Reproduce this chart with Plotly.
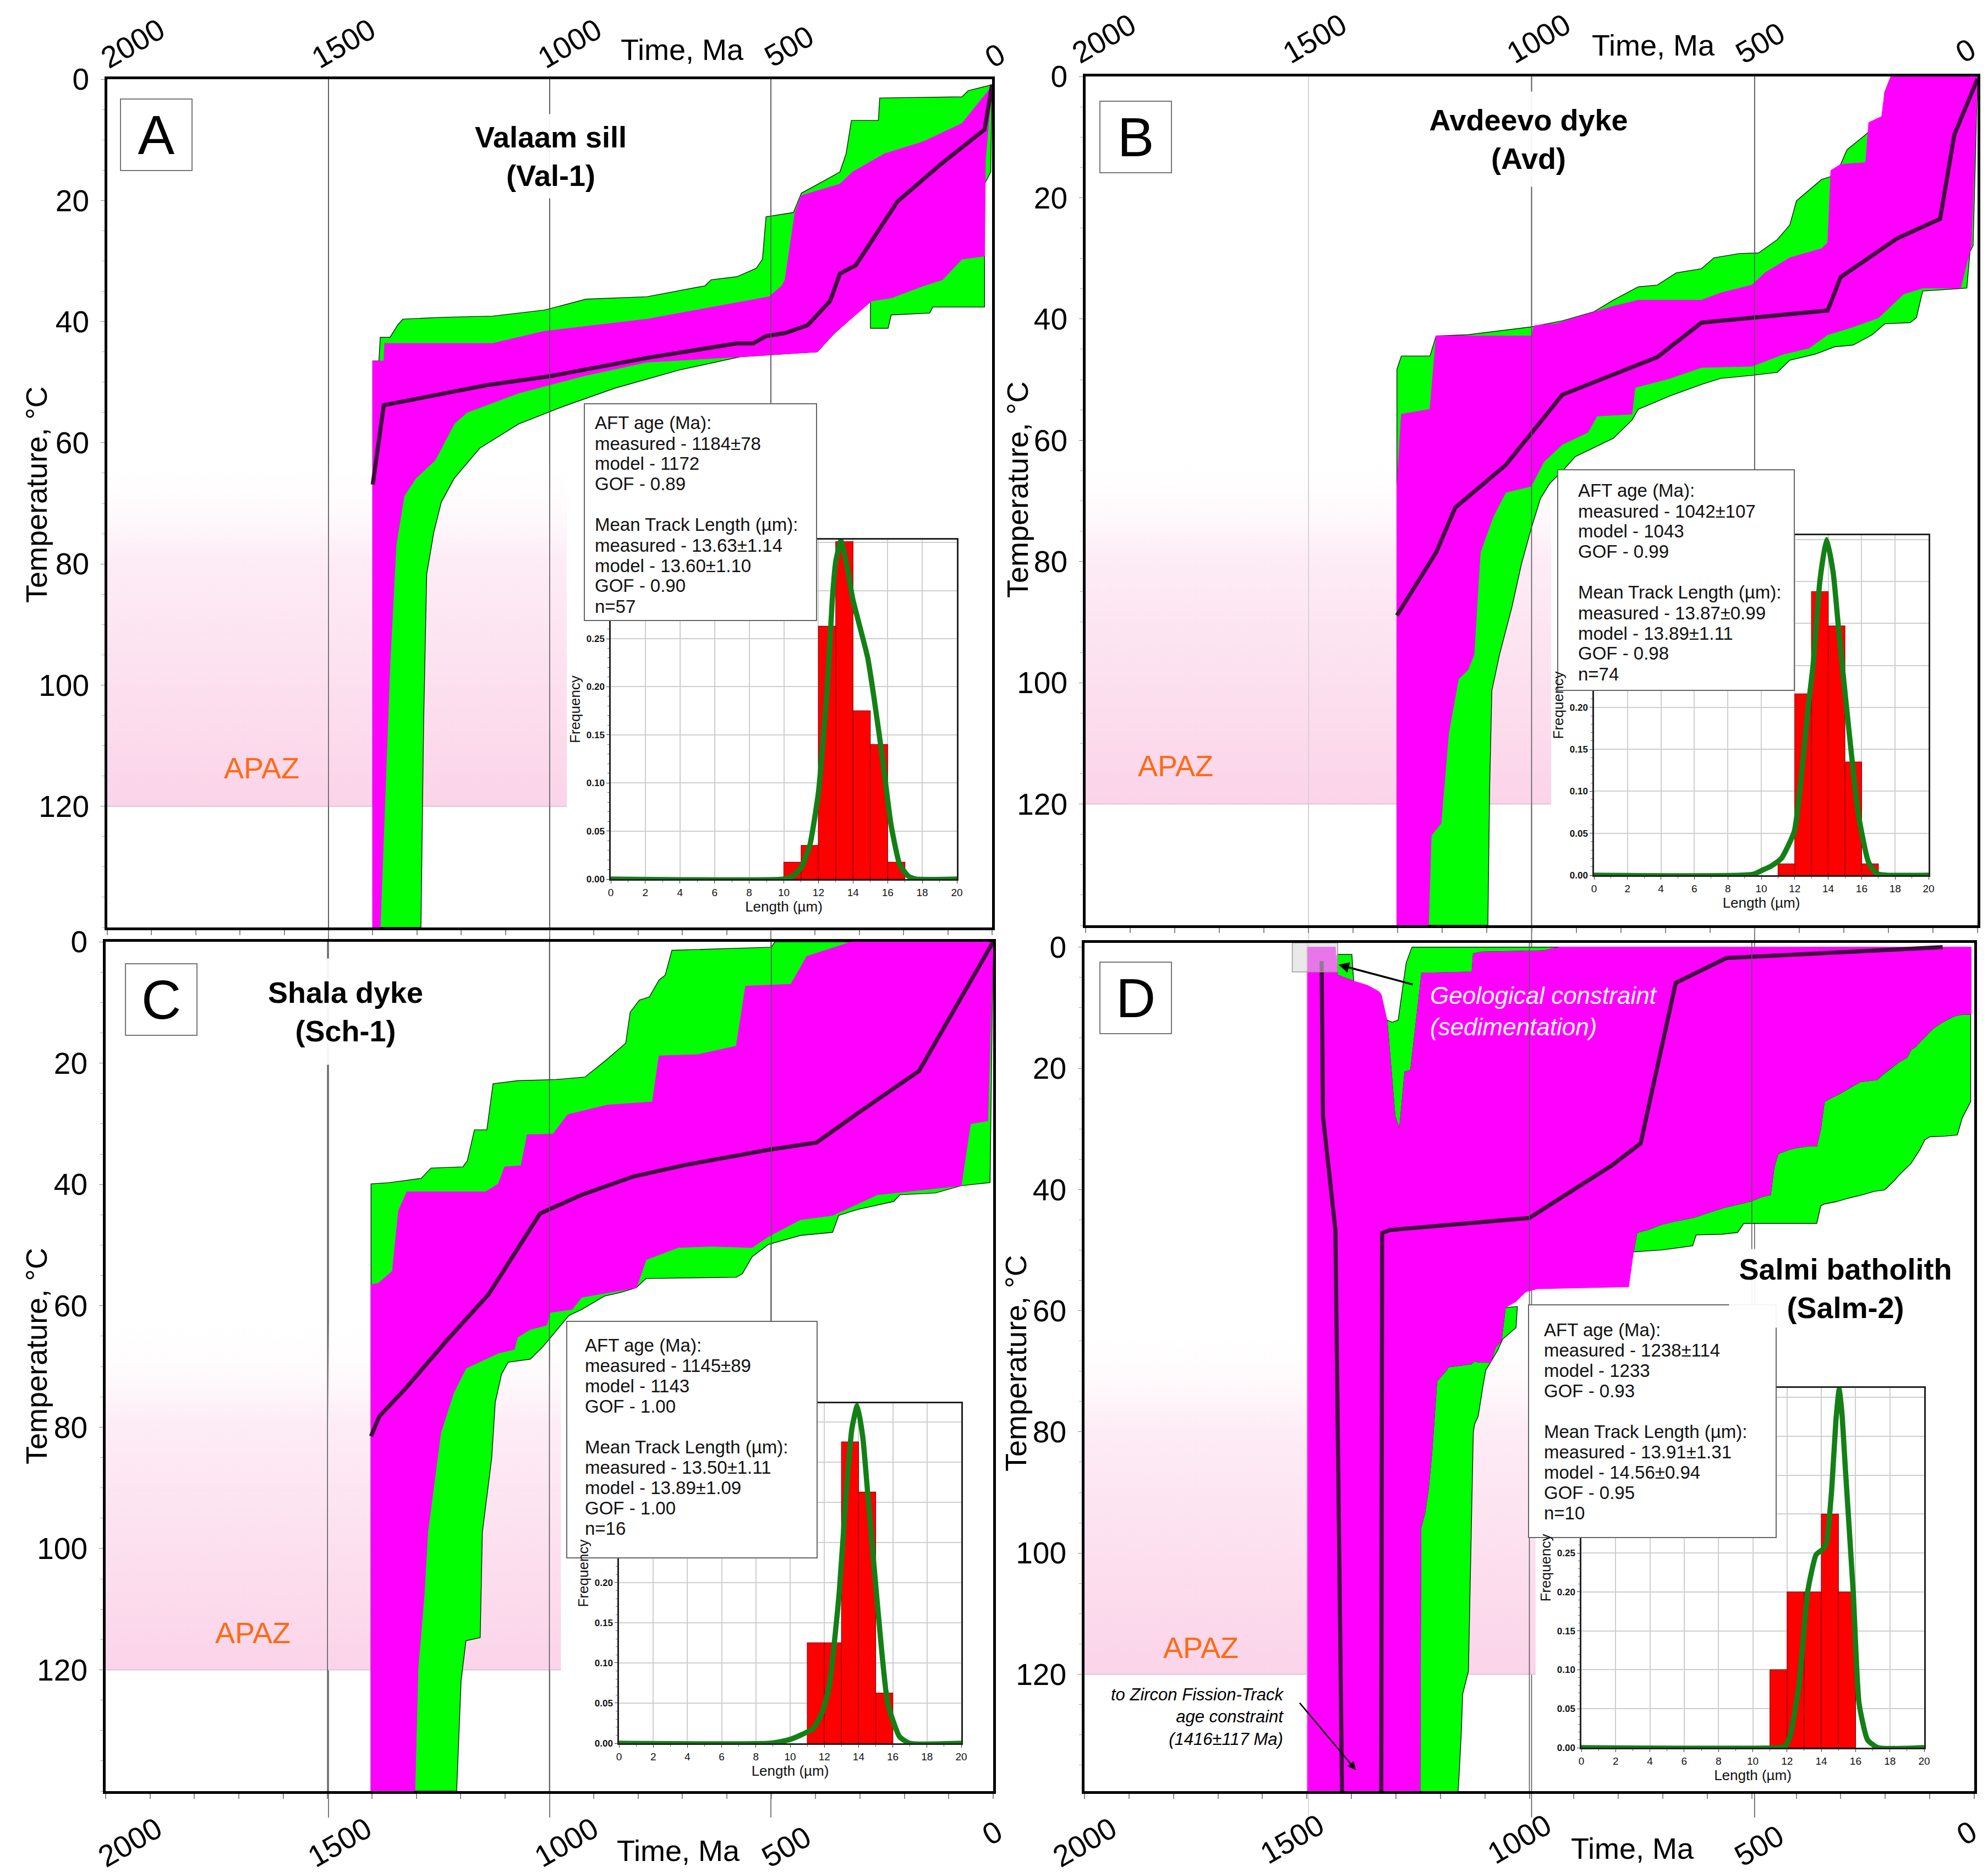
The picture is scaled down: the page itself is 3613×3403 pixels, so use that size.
import plotly.graph_objects as go

W, H = 3613, 3403
FONT = "Liberation Sans"

time_ticks = [2000, 1500, 1000, 500, 0]
time_labels = ["2000", "1500", "1000", "500", "0"]
temp_ticks = [0, 20, 40, 60, 80, 100, 120]
grid_times = [1500, 1000, 500]
freq_ticks = [0, 0.05, 0.10, 0.15, 0.20, 0.25, 0.30, 0.35, 0.40, 0.45]
apaz_top, apaz_bottom = 62, 120

# ---------- A: Valaam sill (Val-1)   points are (time Ma, temperature C) ----------
a_green = [(1400, 140), (1400, 46.5), (1386, 46.5), (1383, 42.6), (1361, 42.6), (1344, 40.6), (1332, 39.6),
           (1245, 39.3), (1129, 39.1), (1012, 38.1), (918, 36.3), (780, 35.9), (649, 34.1), (635, 33.1),
           (577, 32.6), (533, 31.2), (519, 29.7), (511, 22.7), (449, 22), (431, 18.8), (381, 16.8),
           (344, 15.3), (330, 12.3), (318, 6.8), (257, 6.8), (254, 3.1), (68, 2.9), (54, 1.9), (0, 0.9),
           (3, 15.3), (17, 17.3), (17, 37.6), (134, 37.6), (141, 38.6), (228, 38.9), (235, 41.1),
           (275, 41.1), (275, 36.6), (359, 42.1), (395, 45), (569, 45.8), (707, 48), (853, 51), (969, 54),
           (1070, 56.9), (1158, 60.9), (1216, 65.9), (1245, 69.8), (1262, 74.8), (1278, 81.7),
           (1285, 106.5), (1291, 140)]
a_magenta = [(1400, 140), (1400, 46.5), (1375, 46.5), (1373, 43.6), (1129, 43.6), (1012, 41.6), (780, 39.6),
             (504, 35.9), (475, 34.1), (468, 33.1), (446, 22.2), (431, 19.2), (344, 17.3), (315, 15.3),
             (243, 12.3), (155, 10.3), (68, 7.3), (3, 1.4), (0, 0.9), (15, 13.3), (17, 29.2), (68, 29.7),
             (112, 33.1), (155, 34.1), (228, 36.1), (272, 36.6), (359, 42.1), (395, 45), (569, 45.8),
             (780, 46.7), (925, 49), (1070, 51.8), (1187, 55), (1216, 56.9), (1259, 62.9), (1303, 65.9),
             (1329, 68.8), (1347, 76.8), (1361, 96.6), (1375, 125.4), (1383, 140)]
a_path = [(1400, 66.9), (1375, 53.8), (1143, 50.5), (998, 49), (780, 46), (577, 43.6), (540, 43.6),
          (511, 42.4), (468, 41.9), (417, 40.6), (366, 36.6), (344, 32.1), (308, 30.7), (214, 20.2),
          (112, 13.8), (17, 8.3), (0, 0.9)]
a_len_bin = [10.5, 11.5, 12.5, 13.5, 14.5, 15.5, 16.5]
a_len_freq = [0.0175, 0.035, 0.263, 0.351, 0.175, 0.140, 0.0175]
a_fit_len = [0, 10, 10.5, 11, 11.5, 12, 12.5, 12.8, 13.0, 13.3, 13.6, 14.0, 14.3, 14.85, 15.2, 15.7, 16.2,
             16.7, 17.2, 17.6, 20]
a_fit_freq = [0, 0, 0.003, 0.012, 0.035, 0.09, 0.196, 0.29, 0.33, 0.352, 0.33, 0.29, 0.269, 0.23, 0.19,
              0.126, 0.056, 0.015, 0.003, 0, 0]
a_stats = ["AFT age (Ma):", "measured - 1184±78", "model - 1172", "GOF - 0.89", "",
           "Mean Track Length (µm):", "measured - 13.63±1.14", "model - 13.60±1.10", "GOF - 0.90", "n=57"]

# ---------- B: Avdeevo dyke (Avd) ----------
b_green = [(1302, 140), (1302, 48.3), (1292, 46.1), (1228, 46.1), (1214, 42.8), (1143, 42.6), (1001, 41.3),
           (931, 40.3), (860, 38.8), (817, 36.9), (761, 34.7), (718, 34.4), (676, 32.4), (619, 31.7),
           (591, 29.9), (534, 29.2), (491, 29.1), (449, 26.9), (421, 24.5), (406, 20.5), (350, 17),
           (329, 16.5), (307, 14.5), (293, 12.1), (251, 9.6), (229, 8.1), (215, 7.6), (208, 2.6), (194, 0),
           (0, 0), (10, 27.9), (17, 28.9), (24, 34.9), (123, 35.4), (137, 39.8), (151, 40.6), (208, 40.8),
           (236, 42.6), (279, 44.3), (321, 44.6), (364, 45.8), (392, 46.3), (421, 46.8), (449, 48.8),
           (506, 49.3), (576, 49.8), (619, 50.8), (690, 52.7), (761, 54.9), (775, 56.7), (817, 59.7),
           (902, 62.7), (931, 65.1), (959, 67.1), (980, 69.6), (1001, 74.6), (1023, 80.5), (1044, 87.5),
           (1072, 95.4), (1089, 101.3), (1094, 117.2), (1098, 140)]
b_magenta = [(1302, 140), (1302, 67.6), (1292, 55.7), (1228, 54.9), (1214, 42.8), (1001, 42.8), (994, 41.1),
             (945, 40.8), (817, 37.9), (761, 36.9), (619, 36.9), (576, 35.7), (506, 34.4), (477, 32.4),
             (421, 29.9), (350, 28.4), (336, 27.4), (329, 15.5), (307, 14.5), (251, 14.2), (244, 7.6),
             (215, 6.6), (208, 2.6), (194, 0), (0, 0), (14, 27.9), (38, 34.9), (123, 34.9), (166, 35.9),
             (222, 39.8), (279, 41.3), (336, 42.6), (378, 44.8), (435, 45.8), (506, 47.8), (619, 48),
             (690, 49.8), (768, 51.3), (775, 55.7), (853, 56), (874, 58.7), (931, 60.7), (973, 63.6),
             (1001, 67.6), (1058, 68.6), (1086, 72.6), (1115, 78.5), (1129, 95.4), (1143, 97.9),
             (1164, 99.4), (1186, 108.3), (1203, 123.2), (1225, 125.2), (1231, 140)]
b_path = [(1302, 88.9), (1214, 78.5), (1171, 71.1), (1058, 64.1), (931, 52.5), (718, 46.3), (619, 40.6),
          (336, 38.6), (307, 33.1), (180, 26.7), (84, 23.5), (52, 9.6), (0, 0.4)]
b_len_bin = [11.5, 12.5, 13.5, 14.5, 15.5, 16.5]
b_len_freq = [0.0135, 0.216, 0.338, 0.297, 0.135, 0.0135]
b_fit_len = [0, 9.5, 10.06, 10.6, 11.2, 11.97, 12.35, 12.8, 13.1, 13.5, 13.9, 14.3, 14.65, 15.2, 15.8, 16.4,
             16.9, 17.5, 20]
b_fit_freq = [0, 0.001, 0.006, 0.011, 0.02, 0.052, 0.109, 0.2, 0.251, 0.35, 0.40, 0.36, 0.287, 0.18, 0.073,
              0.016, 0.002, 0, 0]
b_stats = ["AFT age (Ma):", "measured - 1042±107", "model - 1043", "GOF - 0.99", "",
           "Mean Track Length (µm):", "measured - 13.87±0.99", "model - 13.89±1.11", "GOF - 0.98", "n=74"]

# ---------- C: Shala dyke (Sch-1) ----------
c_green = [(1402, 140), (1402, 39.9), (1361, 39.7), (1289, 39), (1267, 37.3), (1195, 37.1), (1185, 36.1),
           (1169, 31), (1141, 31), (1127, 23.4), (1072, 22.9), (985, 22.7), (920, 22.3), (869, 19.3),
           (828, 16.7), (818, 11.6), (797, 9.6), (775, 9.1), (753, 6.3), (739, 5.5), (724, 1.4), (500, 0.9),
           (492, 0), (0, 0), (7, 39.7), (72, 40.2), (130, 41.4), (210, 41.7), (224, 42.8), (304, 44.1),
           (348, 45.1), (362, 47.9), (434, 48.4), (507, 49.9), (543, 51.9), (565, 54.7), (579, 55.3),
           (782, 55.5), (804, 57), (840, 57.8), (876, 58.4), (927, 60.6), (956, 61.6), (985, 64.2),
           (1014, 66.7), (1043, 68.8), (1093, 69.3), (1108, 71.3), (1122, 75.9), (1130, 85.1), (1151, 97.3),
           (1156, 114.7), (1188, 115.2), (1199, 121.8), (1209, 140)]
c_magenta = [(1402, 140), (1402, 56.5), (1386, 56.3), (1354, 54.3), (1340, 44.3), (1321, 41.2), (1144, 41.2),
             (1115, 39.9), (1101, 37.1), (1064, 36.9), (1050, 31.8), (992, 31.7), (959, 28.5), (869, 26.9),
             (768, 26.4), (753, 18.8), (666, 18.6), (579, 17.2), (558, 7.3), (456, 7), (420, 2.4), (319, 0),
             (0, 0), (12, 29.5), (51, 30), (72, 40.2), (261, 41.7), (362, 45.1), (434, 45.8), (507, 48.6),
             (543, 50.4), (637, 50.2), (710, 50.4), (782, 52.4), (804, 57), (927, 58.6), (949, 60.6),
             (999, 61.1), (1006, 63.2), (1043, 63.9), (1072, 65.2), (1079, 67.2), (1115, 67.8), (1188, 70.3),
             (1216, 74.4), (1245, 81), (1274, 97.3), (1282, 107.6), (1296, 119.8), (1303, 140)]
c_path = [(1402, 81.5), (1383, 78.2), (1325, 73.7), (1231, 65.7), (1137, 58.1), (1021, 44.8), (927, 41.7),
          (811, 38.7), (695, 36.8), (507, 34.3), (398, 33.1), (304, 28.2), (167, 21.3), (0, 0)]
c_len_bin = [11.5, 12.5, 13.5, 14.5, 15.5]
c_len_freq = [0.125, 0.125, 0.375, 0.3125, 0.0625]
c_fit_len = [0, 8.8, 9.87, 10.6, 11.37, 11.9, 12.3, 12.87, 13.25, 13.6, 13.92, 14.25, 14.56, 15.1, 15.7, 16.4,
             17, 20]
c_fit_freq = [0, 0, 0.004, 0.01, 0.019, 0.04, 0.073, 0.188, 0.304, 0.39, 0.42, 0.38, 0.304, 0.173, 0.05,
              0.008, 0, 0]
c_stats = ["AFT age (Ma):", "measured - 1145±89", "model - 1143", "GOF - 1.00", "",
           "Mean Track Length (µm):", "measured - 13.50±1.11", "model - 13.89±1.09", "GOF - 1.00", "n=16"]

# ---------- D: Salmi batholith (Salm-2) ----------
d_green_top = [(1264, 0), (1277, 2.6), (1295, 12.05), (1308, 12.4), (1320, 12.05), (1302, 27.9), (1292, 30),
               (1280, 20.6), (1267, 20.3), (1242, 4.3), (1129, 4.1), (1126, 1.1), (1107, 0.8), (969, 0.6),
               (932, 0)]
d_green_nub = [(1432, 1.2), (1399, 1.2), (1395, 5.6), (1424, 4.8), (1432, 4.6)]
d_green_right = [(10, 11.1), (27, 11.1), (46, 11.4), (72, 12.4), (94, 13.5), (108, 14.6), (122, 15.6),
                 (131, 16.4), (142, 16.9), (151, 18.2), (170, 19), (190, 20.1), (207, 21.1), (219, 21.9),
                 (255, 22.2), (275, 23), (303, 24.2), (317, 24.7), (337, 25.5), (345, 29.9), (354, 32.8),
                 (371, 32.8), (399, 33.1), (416, 33.4), (441, 34.1), (450, 36.4), (458, 40.9), (478, 41.2),
                 (501, 41.9), (529, 42.4), (563, 43), (597, 43.8), (630, 44.6), (676, 45.3), (704, 45.8),
                 (732, 46.6), (758, 47.1), (766, 50.3), (704, 50), (633, 49.3), (625, 47.5), (568, 47.4),
                 (532, 47.1), (518, 45.6), (354, 45.6), (345, 42.7), (337, 42.4), (309, 42), (281, 41.4),
                 (252, 40.9), (224, 40.3), (202, 40.1), (179, 38.5), (170, 37.7), (142, 35.7), (122, 33.4),
                 (111, 31.8), (100, 31.3), (66, 31.2), (38, 31), (27, 28.2), (8, 25.5), (8, 11.1)]
d_green_left = [(1027, 59.3), (1054, 59.5), (1063, 65), (1076, 66), (1087, 68.5), (1115, 68.5), (1123, 68.3),
                (1131, 68.8), (1183, 69.3), (1186, 69.8), (1205, 71.4), (1208, 71.7), (1219, 83.2),
                (1227, 89.5), (1235, 93.4), (1244, 95.9), (1246, 140), (1161, 140), (1159, 138),
                (1153, 129.7), (1150, 123.3), (1137, 119.5), (1131, 97.8), (1126, 80), (1123, 78.7),
                (1115, 77.4), (1104, 72.3), (1098, 69.8), (1087, 68.5), (1071, 66.5), (1060, 64.7),
                (1030, 62.8)]
d_magenta = [(1500, 140), (1500, 0), (1436, 0), (1432, 4.6), (1424, 4.8), (1395, 5.6), (1364, 6.3), (1339, 7.3),
             (1333, 7.8), (1320, 12.05), (1302, 27.9), (1292, 30), (1280, 20.6), (1267, 20.3), (1242, 4.3),
             (1129, 4.1), (1126, 1.1), (1107, 0.8), (969, 0.6), (932, 0), (7, 0), (7, 11.1), (27, 11.1),
             (46, 11.4), (72, 12.4), (94, 13.5), (108, 14.6), (122, 15.6), (131, 16.4), (142, 16.9),
             (151, 18.2), (170, 19), (190, 20.1), (207, 21.1), (219, 21.9), (255, 22.2), (275, 23),
             (303, 24.2), (317, 24.7), (337, 25.5), (345, 29.9), (354, 32.8), (371, 32.8), (399, 33.1),
             (416, 33.4), (441, 34.1), (450, 36.4), (458, 40.9), (478, 41.2), (501, 41.9), (529, 42.4),
             (563, 43), (597, 43.8), (630, 44.6), (676, 45.3), (704, 45.8), (732, 46.6), (758, 47.1),
             (766, 50.3), (777, 56.1), (794, 56.1), (983, 56.4), (1008, 56.9), (1030, 58.5), (1054, 59.5),
             (1063, 65), (1076, 66), (1087, 68.5), (1115, 68.5), (1123, 68.3), (1131, 68.8), (1183, 69.3),
             (1186, 69.8), (1205, 71.4), (1208, 71.7), (1219, 83.2), (1227, 89.5), (1235, 93.4),
             (1244, 95.9), (1246, 140)]
d_path_zircon = [(1467, 2.3), (1464, 27.9), (1436, 46.7), (1421, 140)]
d_path_main = [(1333, 140), (1331, 47.2), (1314, 46.7), (1000, 44.7), (814, 36), (750, 32.4), (671, 5.9),
               (557, 1.8), (71, 0)]
d_len_bin = [11.5, 12.5, 13.5, 14.5, 15.5]
d_len_freq = [0.1, 0.2, 0.2, 0.3, 0.2]
d_fit_len = [0, 11.5, 11.9, 12.2, 12.7, 13.2, 13.7, 14.1, 14.3, 14.6, 14.85, 15.04, 15.2, 15.4, 15.86, 16.2,
             16.7, 17.3, 20]
d_fit_freq = [0, 0, 0.002, 0.017, 0.081, 0.2, 0.248, 0.255, 0.263, 0.33, 0.42, 0.46, 0.43, 0.359, 0.2, 0.057,
              0.01, 0, 0]
d_stats = ["AFT age (Ma):", "measured - 1238±114", "model - 1233", "GOF - 0.93", "",
           "Mean Track Length (µm):", "measured - 13.91±1.31", "model - 14.56±0.94", "GOF - 0.95", "n=10"]


def px(v):
    return v / W


def py(v):
    return 1 - v / H


def closed(polys):
    xs, ys = [], []
    for poly in polys:
        xs += [p[0] for p in poly] + [poly[0][0], None]
        ys += [p[1] for p in poly] + [poly[0][1], None]
    return xs, ys


# layout geometry in pixels of the 3613x3403 page
panels = [
    dict(letter="A", title="<b>Valaam sill</b><br><b>(Val-1)</b>", green=[a_green], magenta=[a_magenta],
         paths=[a_path], bins=a_len_bin, freq=a_len_freq, fit_x=a_fit_len, fit_y=a_fit_freq, stats=a_stats,
         frame=(187, 136, 1795, 1678), trange=[140, 0], apaz_end=961, apaz_lab=(1651, 113.7),
         title_pos=(998, 12.7, 540, 150), letter_c=(276, 237), inset=(961, 51, 72.6, 140),
         hist=(1102, 973, 1731, 1590), hist_top=0.353, hist_lab=0.25, box=(1054, 726, 1476, 1120),
         pad=(17, 35), time_c=(1232, 82), temp_c=(58, 891), light=False,
         lab_px=[(233, 71), (616, 71), (1027, 71), (1426, 76), (1800, 93)]),
    dict(letter="B", title="<b>Avdeevo dyke</b><br><b>(Avd)</b>", green=[b_green], magenta=[b_magenta],
         paths=[b_path], bins=b_len_bin, freq=b_len_freq, fit_x=b_fit_len, fit_y=b_fit_freq, stats=b_stats,
         frame=(1965, 131, 3586, 1674), trange=[140, 0], apaz_end=956, apaz_lab=(1798, 113.7),
         title_pos=(1007, 10.3, 480, 170), letter_c=(2056, 241), inset=(956, 50, 72.4, 140),
         hist=(2889, 965, 3497, 1583), hist_top=0.405, hist_lab=0.20, box=(2823, 846, 3253, 1247),
         pad=(35, 38), time_c=(2997, 74), temp_c=(1841, 882), light=True,
         lab_px=[(1998, 62), (2381, 62), (2788, 62), (3191, 70), (3564, 84)]),
    dict(letter="C", title="<b>Shala dyke</b><br><b>(Sch-1)</b>", green=[c_green], magenta=[c_magenta],
         paths=[c_path], bins=c_len_bin, freq=c_len_freq, fit_x=c_fit_len, fit_y=c_fit_freq, stats=c_stats,
         frame=(184, 1704, 1797, 3248), trange=[140, 0], apaz_end=974, apaz_lab=(1668, 113.9),
         title_pos=(1459, 11.5, 340, 190), letter_c=(285, 1809), inset=(972, 46, 72.5, 140),
         hist=(1117, 2543, 1739, 3161), hist_top=0.423, hist_lab=0.20, box=(1022, 2394, 1477, 2824),
         pad=(31, 43), time_c=(1225, 3356), temp_c=(58, 2457), light=False,
         lab_px=[(228, 3341), (609, 3341), (1021, 3341), (1421, 3349), (1795, 3324)]),
    dict(letter="D", title="<b>Salmi batholith</b><br><b>(Salm-2)</b>",
         green=[d_green_top, d_green_nub, d_green_right, d_green_left], magenta=[d_magenta],
         paths=[d_path_zircon, d_path_main], bins=d_len_bin, freq=d_len_freq, fit_x=d_fit_len,
         fit_y=d_fit_freq, stats=d_stats,
         frame=(1963, 1706, 3580, 3248), trange=[139.3, -0.7], apaz_end=983, apaz_lab=(1739, 115.6),
         title_pos=(290, 56.3, 420, 140), letter_c=(2056, 1806), inset=(986, 78, 67.8, 139.3),
         hist=(2866, 2515, 3489, 3169), hist_top=0.462, hist_lab=0.25, box=(2770, 2364, 3220, 2787),
         pad=(26, 45), time_c=(2959, 3352), temp_c=(1838, 2470), light=True,
         lab_px=[(1963, 3341), (2340, 3335), (2753, 3335), (3189, 3347), (3566, 3324)]),
]

fig = go.Figure()
annotations = []
shapes = []
axes = {}
CENTER = dict(xanchor="center", yanchor="middle")

for i, p in enumerate(panels):
    n = i + 1
    xa = "x" if n == 1 else f"x{n}"
    ya = "y" if n == 1 else f"y{n}"
    hx, hy = f"x{n + 4}", f"y{n + 4}"
    L, T, R, B = p["frame"]
    tbot = p["trange"][0]

    # APAZ gradient band
    fig.add_trace(go.Scatter(
        x=[2000, p["apaz_end"], p["apaz_end"], 2000], y=[apaz_top, apaz_top, apaz_bottom, apaz_bottom],
        fill="toself", mode="none", xaxis=xa, yaxis=ya,
        fillgradient=dict(type="vertical", start=apaz_top, stop=apaz_bottom,
                          colorscale=[[0, "rgba(255,255,255,0)"], [0.3, "rgba(253,236,245,1)"],
                                      [1, "rgba(251,212,233,1)"]])))
    fig.add_trace(go.Scatter(x=[2000, p["apaz_end"]], y=[apaz_bottom, apaz_bottom], mode="lines",
                             line=dict(color="#dcc6d2", width=2), xaxis=xa, yaxis=ya))

    gx, gy = closed(p["green"])
    fig.add_trace(go.Scatter(x=gx, y=gy, fill="toself", fillcolor="#00ff00", mode="lines",
                             line=dict(color="#1a1a1a", width=1.4), xaxis=xa, yaxis=ya))
    mx, my = closed(p["magenta"])
    fig.add_trace(go.Scatter(x=mx, y=my, fill="toself", fillcolor="#ff00ff", mode="lines",
                             line=dict(color="#ff00ff", width=1), xaxis=xa, yaxis=ya))
    for path in p["paths"]:
        fig.add_trace(go.Scatter(x=[q[0] for q in path], y=[q[1] for q in path], mode="lines",
                                 line=dict(color="#3f0a3d", width=7.5), xaxis=xa, yaxis=ya))

    # vertical time gridlines, drawn over the envelopes
    for gt in grid_times:
        col = "#cfcfcf" if (p["light"] and gt == 1500) else "#5a5a5a"
        fig.add_trace(go.Scatter(x=[gt, gt], y=[p["trange"][1], tbot], mode="lines",
                                 line=dict(color=col, width=1.6), xaxis=xa, yaxis=ya))

    # white backing behind the track-length inset
    t0, t1, T0, T1 = p["inset"]
    fig.add_trace(go.Scatter(x=[t0, t1, t1, t0], y=[T0, T0, T1, T1], fill="toself", fillcolor="white",
                             mode="none", xaxis=xa, yaxis=ya))

    # histogram inset
    fig.add_trace(go.Bar(x=p["bins"], y=p["freq"], width=1, xaxis=hx, yaxis=hy,
                         marker=dict(color="#ff0000", line=dict(color="#8c0000", width=1.2))))
    fig.add_trace(go.Scatter(x=p["fit_x"], y=p["fit_y"], mode="lines", xaxis=hx, yaxis=hy,
                             line=dict(color="#138016", width=9.5, shape="spline", smoothing=0.5)))

    axes["xaxis" if n == 1 else f"xaxis{n}"] = dict(
        domain=[px(L), px(R)], range=[2000, 0], anchor=ya, showline=True, mirror=True, linecolor="black",
        linewidth=5, showgrid=False, zeroline=False, showticklabels=False, ticks="outside", ticklen=9,
        tickcolor="#888", tickwidth=1.5, tick0=0, dtick=100)
    axes["yaxis" if n == 1 else f"yaxis{n}"] = dict(
        domain=[py(B), py(T)], range=p["trange"], anchor=xa, showline=True, mirror=True, linecolor="black",
        linewidth=5, showgrid=False, zeroline=False, tickmode="array", tickvals=temp_ticks, ticks="outside",
        ticklen=7, tickcolor="#888", tickfont=dict(size=55, color="black"), ticklabelstandoff=10,
        minor=dict(tick0=0, dtick=5, ticks="outside", ticklen=5, tickcolor="#aaa"))

    hl, ht, hr, hb = p["hist"]
    ftxt = [f"{v:.2f}" if v <= p["hist_lab"] + 1e-9 else "" for v in freq_ticks]
    axes[f"xaxis{n + 4}"] = dict(
        domain=[px(hl), px(hr)], range=[0, 20], anchor=hy, tick0=0, dtick=2, showgrid=True,
        gridcolor="#cfcfcf", gridwidth=1.5, zeroline=False, showline=True, mirror=True, linecolor="#222",
        linewidth=2.5, ticks="outside", ticklen=5, tickcolor="#333", tickfont=dict(size=19, color="#111"),
        title=dict(text="Length (µm)", font=dict(size=26, color="#111"), standoff=4),
        minor=dict(dtick=1, ticks="outside", ticklen=3, tickcolor="#666"))
    axes[f"yaxis{n + 4}"] = dict(
        domain=[py(hb), py(ht)], range=[0, p["hist_top"]], anchor=hx, tickmode="array", tickvals=freq_ticks,
        ticktext=ftxt, showgrid=True, gridcolor="#cfcfcf", gridwidth=1.5, zeroline=False, showline=True,
        mirror=True, linecolor="#222", linewidth=2.5, ticks="outside", ticklen=5, tickcolor="#333",
        tickfont=dict(size=17, color="#111", weight="bold"),
        title=dict(text="Frequency", font=dict(size=26, color="#111"), standoff=4),
        minor=dict(dtick=0.01, ticks="outside", ticklen=3, tickcolor="#666"))

    # rotated time labels, tied to the axis tick values
    for tv, lab, (lx, ly) in zip(time_ticks, time_labels, p["lab_px"]):
        tick_px = L + (2000 - tv) / 2000 * (R - L)
        annotations.append(dict(x=tv, xref=xa, y=py(ly), yref="paper", text=lab, showarrow=False,
                                textangle=-30, xshift=lx - tick_px, font=dict(size=55, color="black"),
                                **CENTER))
    annotations.append(dict(x=px(p["time_c"][0]), y=py(p["time_c"][1]), xref="paper", yref="paper",
                            text="Time, Ma", showarrow=False, font=dict(size=54, color="black"), **CENTER))
    annotations.append(dict(x=px(p["temp_c"][0]), y=py(p["temp_c"][1]), xref="paper", yref="paper",
                            text="Temperature, °C", textangle=-90, showarrow=False,
                            font=dict(size=54, color="black"), **CENTER))
    # panel letter
    annotations.append(dict(x=px(p["letter_c"][0]), y=py(p["letter_c"][1]), xref="paper", yref="paper",
                            text=p["letter"], showarrow=False, width=126, height=126, bgcolor="white",
                            bordercolor="#777", borderwidth=2, font=dict(size=100, color="black"), **CENTER))
    # sample title
    tx, tyv, tw, th = p["title_pos"]
    annotations.append(dict(x=tx, y=tyv, xref=xa, yref=ya, text=p["title"], showarrow=False, width=tw,
                            height=th, bgcolor="rgba(255,255,255,0.93)", font=dict(size=54, color="black"),
                            **CENTER))
    annotations.append(dict(x=p["apaz_lab"][0], y=p["apaz_lab"][1], xref=xa, yref=ya, text="APAZ",
                            showarrow=False, font=dict(size=54, color="#ff6a13"), **CENTER))

    # statistics box
    bl, bt, br, bb = p["box"]
    shapes.append(dict(type="rect", xref="paper", yref="paper", x0=px(bl), x1=px(br), y0=py(bb), y1=py(bt),
                       fillcolor="white", line=dict(color="#666", width=2), layer="above"))
    for k, line in enumerate(p["stats"]):
        if line:
            annotations.append(dict(x=px(bl + p["pad"][0]), y=py(bt + p["pad"][1] + k * 37), xref="paper",
                                    yref="paper", text=line, showarrow=False, xanchor="left",
                                    yanchor="middle", font=dict(size=33, color="#111")))

# gridlines continuing through the gaps between the frames
for col_ax, top_px, light in [("x", 136, False), ("x2", 131, True)]:
    for gt in grid_times:
        col = "#cfcfcf" if (light and gt == 1500) else "#5a5a5a"
        shapes.append(dict(type="line", xref=col_ax, yref="paper", x0=gt, x1=gt, y0=py(3296), y1=py(top_px),
                           line=dict(color=col, width=1.6), layer="below"))

# panel D: geological constraint box and notes
shapes.append(dict(type="rect", xref="x4", yref="y4", x0=1533, x1=1431, y0=-0.7, y1=4.1,
                   fillcolor="rgba(215,215,215,0.55)", line=dict(color="#999", width=1.5), layer="above"))
annotations.append(dict(x=1226, y=10.6, xref="x4", yref="y4", xanchor="left", yanchor="middle", align="left",
                        showarrow=False, text="Geological constraint<br>(sedimentation)",
                        font=dict(size=44, color="white", style="italic")))
annotations.append(dict(x=1429, y=2.9, xref="x4", yref="y4", ax=1260, ay=6.2, axref="x4", ayref="y4",
                        text="", showarrow=True, arrowhead=2, arrowsize=1.1, arrowwidth=3.5,
                        arrowcolor="black"))
annotations.append(dict(x=1550, y=127, xref="x4", yref="y4", xanchor="right", yanchor="middle",
                        align="right", showarrow=False,
                        text="to Zircon Fission-Track<br>age constraint<br>(1416±117 Ma)",
                        font=dict(size=31, color="black", style="italic")))
annotations.append(dict(x=1390, y=135.8, xref="x4", yref="y4", ax=1518, ay=124.6, axref="x4", ayref="y4",
                        text="", showarrow=True, arrowhead=2, arrowsize=1.2, arrowwidth=2.5,
                        arrowcolor="black"))

fig.update_layout(
    width=W, height=H, margin=dict(l=0, r=0, t=0, b=0), template="none",
    paper_bgcolor="white", plot_bgcolor="white", showlegend=False,
    font=dict(family=FONT, color="black"), annotations=annotations, shapes=shapes, **axes)

fig.write_html("out.html")
